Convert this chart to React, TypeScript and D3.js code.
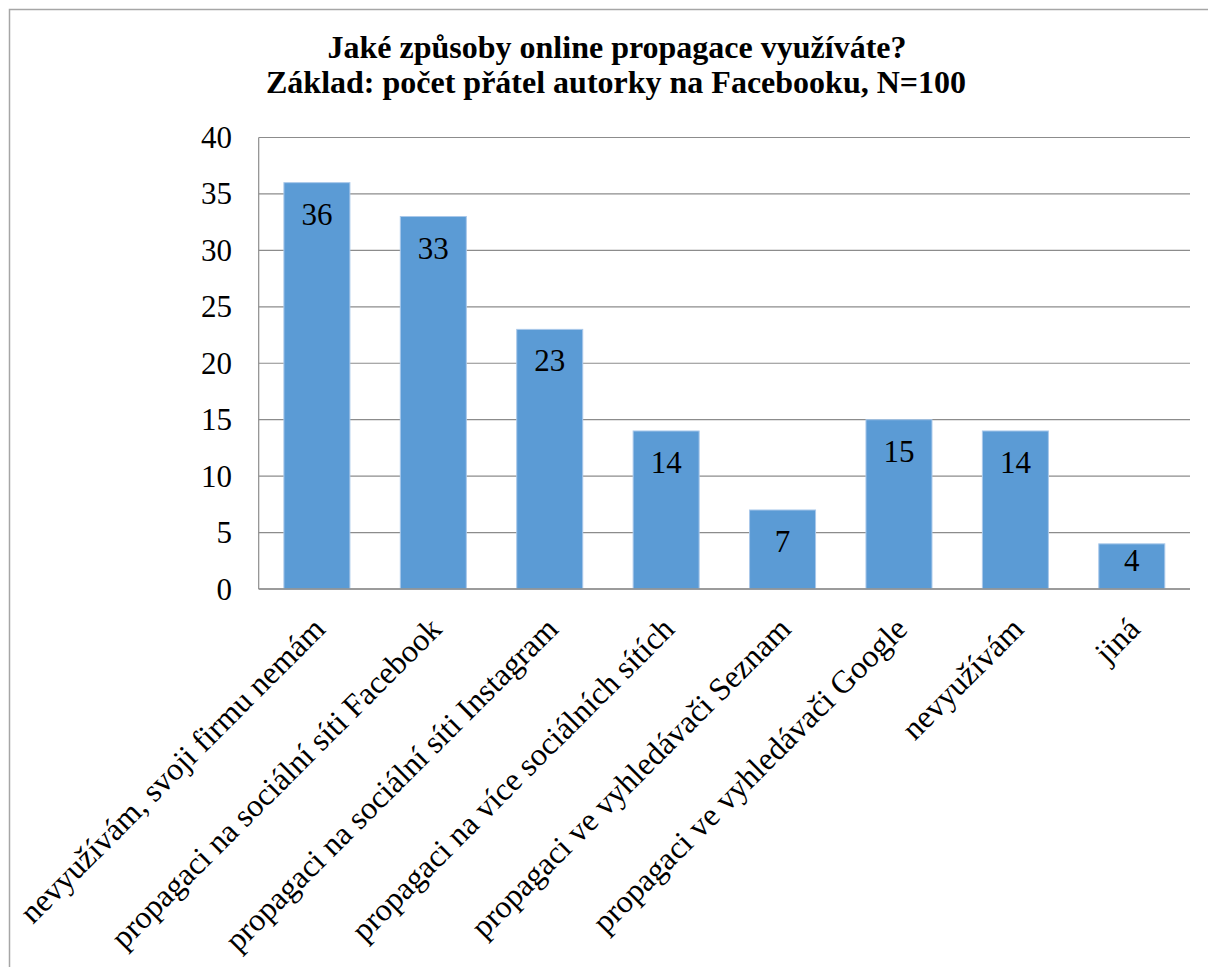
import React from "react";
import * as d3 from "d3";

const titleLines = [
  "Jaké způsoby online propagace využíváte?",
  "Základ: počet přátel autorky na Facebooku, N=100",
];
const categories = [
  "nevyužívám, svoji firmu nemám",
  "propagaci na sociální síti Facebook",
  "propagaci na sociální síti Instagram",
  "propagaci na více sociálních sítích",
  "propagaci ve vyhledávači Seznam",
  "propagaci ve vyhledávači Google",
  "nevyužívám",
  "jiná",
];
const values = [36, 33, 23, 14, 7, 15, 14, 4];
const yTicks = [0, 5, 10, 15, 20, 25, 30, 35, 40];

const W = 1208;
const H = 967;
const plot = { left: 258.7, right: 1190, top: 137.5, bottom: 589 };
const FONT = '"Liberation Serif", "Times New Roman", Times, serif';
const ts: React.CSSProperties = { fontFamily: FONT };

export default function App() {
  const x = d3
    .scaleBand<string>()
    .domain(categories)
    .range([plot.left, plot.right])
    .paddingInner(0.433)
    .paddingOuter(0.2165);
  const y = d3.scaleLinear().domain([0, 40]).range([plot.bottom, plot.top]);

  return (
    <svg
      width={W}
      height={H}
      style={{ position: "absolute", left: 0, top: 0, display: "block", background: "#fff", fontFamily: FONT }}
    >
      <rect x={0} y={0} width={W} height={H} fill="#fff" />
      {/* outer frame */}
      <path d={`M9.5,${H + 5} V9.5 H${W + 5}`} fill="none" stroke="#a6a6a6" strokeWidth={1.5} />

      {/* title */}
      <g fontWeight="bold" fontSize={32} textAnchor="middle" fill="#000">
        <text style={ts} x={617} y={58}>{titleLines[0]}</text>
        <text style={ts} x={616} y={93}>{titleLines[1]}</text>
      </g>

      {/* gridlines */}
      {yTicks.map((t) => (
        <line
          key={t}
          x1={plot.left}
          x2={plot.right}
          y1={y(t)}
          y2={y(t)}
          stroke="#8c8c8c"
          strokeWidth={1.2}
        />
      ))}
      {/* y axis line */}
      <line x1={plot.left} x2={plot.left} y1={plot.top} y2={plot.bottom} stroke="#8c8c8c" strokeWidth={1.2} />

      {/* y tick labels */}
      {yTicks.map((t) => (
        <text style={ts} key={t} x={232} y={y(t) + 10.5} textAnchor="end" fontSize={31} fill="#000">
          {t}
        </text>
      ))}

      {/* bars */}
      {categories.map((c, i) => (
        <rect
          key={c}
          x={x(c)}
          y={y(values[i])}
          width={x.bandwidth()}
          height={y(0) - y(values[i])}
          fill="#5b9bd5"
          stroke="#a9c8ea"
          strokeWidth={1}
        />
      ))}

      {/* zero axis line on top */}
      <line x1={plot.left} x2={plot.right} y1={y(0)} y2={y(0)} stroke="#8c8c8c" strokeWidth={1.4} />

      {/* data labels */}
      {categories.map((c, i) => {
        const cx = (x(c) as number) + x.bandwidth() / 2;
        const ly = Math.min(y(values[i]) + 42, y(0) - 18);
        return (
          <text style={ts} key={c} x={cx} y={ly} textAnchor="middle" fontSize={31} fill="#000">
            {values[i]}
          </text>
        );
      })}

      {/* category labels */}
      {categories.map((c) => {
        const cx = (x(c) as number) + x.bandwidth() / 2;
        return (
          <text
            style={ts}
            key={c}
            transform={`translate(${cx + 10},${plot.bottom + 42}) rotate(-45)`}
            textAnchor="end"
            fontSize={32}
            fill="#000"
          >
            {c}
          </text>
        );
      })}
    </svg>
  );
}
